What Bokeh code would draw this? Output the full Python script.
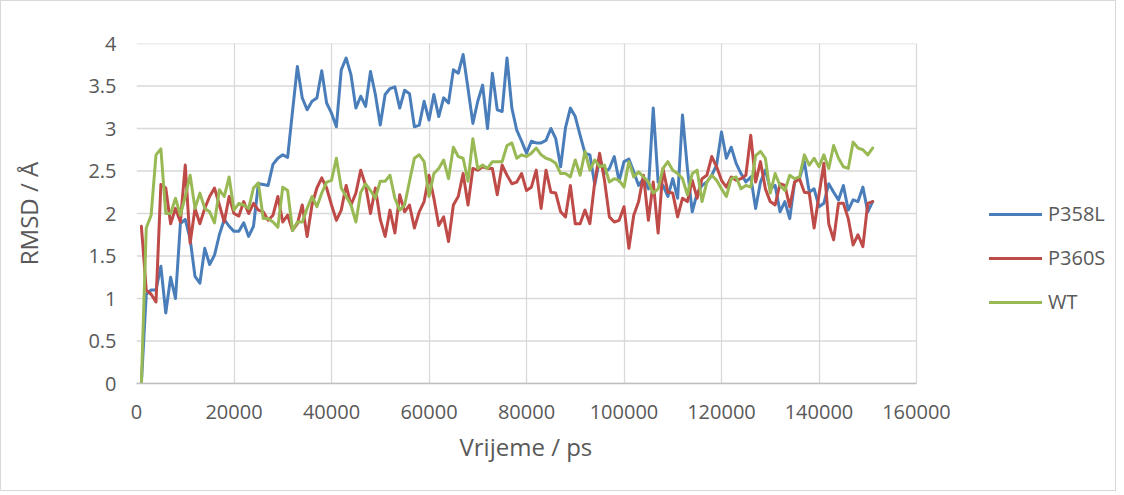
from bokeh.plotting import figure
from bokeh.models import Range1d, FixedTicker, Legend, LegendItem, ColumnDataSource, Title
from bokeh.embed import file_html
from bokeh.resources import INLINE

# ---------------- data ----------------
time_ps = list(range(1000, 152000, 1000))

p358l = [0.00, 1.05, 1.10, 1.10, 1.38, 0.83, 1.25, 1.00, 1.88, 1.93,
         1.70, 1.26, 1.18, 1.59, 1.40, 1.51, 1.75, 1.93, 1.85, 1.79,
         1.79, 1.89, 1.73, 1.85, 2.35, 2.34, 2.33, 2.58, 2.65, 2.69,
         2.66, 3.20, 3.73, 3.36, 3.22, 3.32, 3.36, 3.68, 3.30, 3.18,
         3.02, 3.69, 3.83, 3.63, 3.24, 3.38, 3.26, 3.67, 3.40, 3.04,
         3.40, 3.47, 3.49, 3.24, 3.45, 3.41, 3.02, 3.04, 3.32, 3.10,
         3.40, 3.14, 3.36, 3.30, 3.69, 3.65, 3.87, 3.47, 3.06, 3.32,
         3.51, 3.00, 3.65, 3.22, 3.20, 3.83, 3.24, 2.98, 2.85, 2.71,
         2.85, 2.83, 2.83, 2.86, 3.00, 2.88, 2.55, 3.01, 3.24, 3.14,
         2.92, 2.71, 2.69, 2.34, 2.64, 2.47, 2.53, 2.67, 2.38, 2.61,
         2.64, 2.49, 2.33, 2.41, 2.29, 3.24, 2.37, 2.33, 2.20, 2.41,
         2.18, 3.16, 2.53, 2.02, 2.24, 2.33, 2.37, 2.45, 2.57, 2.96,
         2.65, 2.78, 2.59, 2.47, 2.37, 2.43, 2.06, 2.37, 2.51, 2.29,
         2.33, 2.02, 2.14, 1.94, 2.37, 2.41, 2.61, 2.25, 2.29, 2.08,
         2.12, 2.35, 2.25, 2.16, 2.33, 2.04, 2.16, 2.14, 2.31, 2.02, 2.14]

p360s = [1.85, 1.10, 1.05, 0.96, 2.34, 2.30, 1.88, 2.06, 1.90, 2.57,
         1.65, 2.06, 1.88, 2.06, 2.20, 2.30, 2.10, 1.90, 2.20, 2.00,
         1.97, 2.14, 2.00, 2.12, 2.04, 2.02, 1.92, 1.98, 2.20, 1.90,
         1.98, 1.80, 1.88, 2.10, 1.73, 2.10, 2.30, 2.42, 2.30, 2.10,
         1.92, 2.04, 2.33, 2.10, 2.24, 2.51, 2.33, 2.00, 2.30, 1.93,
         1.73, 2.04, 1.77, 2.22, 2.02, 2.10, 1.83, 2.02, 2.14, 2.45,
         2.18, 1.86, 1.96, 1.67, 2.10, 2.20, 2.47, 2.10, 2.53, 2.51,
         2.55, 2.53, 2.53, 2.22, 2.57, 2.45, 2.35, 2.37, 2.47, 2.27,
         2.31, 2.51, 2.06, 2.51, 2.25, 2.24, 2.02, 1.96, 2.33, 1.88,
         1.88, 2.04, 1.88, 2.37, 2.71, 2.39, 1.96, 1.90, 1.92, 2.08,
         1.59, 1.98, 2.14, 2.45, 1.92, 2.37, 1.77, 2.53, 2.25, 2.24,
         1.96, 2.18, 2.14, 2.39, 2.18, 2.41, 2.45, 2.67, 2.55, 2.39,
         2.31, 2.43, 2.39, 2.41, 2.45, 2.92, 2.37, 2.61, 2.29, 2.14,
         2.10, 2.35, 2.33, 2.08, 2.37, 2.41, 2.25, 2.24, 1.83, 2.22,
         2.59, 1.88, 1.69, 2.12, 2.12, 1.94, 1.63, 1.75, 1.61, 2.12, 2.14]

wt = [0.00, 1.83, 1.98, 2.69, 2.76, 2.00, 2.00, 2.18, 1.98, 2.20,
      2.45, 2.06, 2.24, 2.06, 2.02, 1.89, 2.28, 2.20, 2.43, 2.04,
      2.12, 2.10, 2.06, 2.30, 2.36, 1.94, 1.94, 1.90, 1.84, 2.31,
      2.27, 1.80, 1.90, 1.90, 2.06, 2.20, 2.08, 2.24, 2.37, 2.39,
      2.65, 2.30, 2.20, 2.10, 1.90, 2.25, 2.35, 2.27, 2.18, 2.38,
      2.38, 2.45, 2.18, 2.04, 2.10, 2.38, 2.65, 2.69, 2.61, 2.20,
      2.47, 2.53, 2.63, 2.41, 2.78, 2.67, 2.65, 2.38, 2.88, 2.53,
      2.57, 2.53, 2.61, 2.61, 2.61, 2.80, 2.83, 2.65, 2.69, 2.67,
      2.71, 2.77, 2.69, 2.65, 2.63, 2.59, 2.47, 2.47, 2.43, 2.63,
      2.45, 2.73, 2.51, 2.63, 2.55, 2.57, 2.37, 2.41, 2.39, 2.31,
      2.61, 2.43, 2.49, 2.43, 2.37, 2.24, 2.29, 2.53, 2.61, 2.51,
      2.47, 2.41, 2.22, 2.47, 2.51, 2.14, 2.37, 2.45, 2.39, 2.29,
      2.20, 2.41, 2.43, 2.29, 2.33, 2.31, 2.68, 2.73, 2.65, 2.24,
      2.47, 2.33, 2.27, 2.45, 2.41, 2.43, 2.69, 2.57, 2.65, 2.55,
      2.69, 2.53, 2.80, 2.65, 2.55, 2.53, 2.84, 2.77, 2.75, 2.69, 2.77]

series_names = ["P358L", "P360S", "WT"]
series_colors = ["#4A7EBB", "#BE4B48", "#98B954"]

x_ticks = [0, 20000, 40000, 60000, 80000, 100000, 120000, 140000, 160000]
x_tick_labels = ["0", "20000", "40000", "60000", "80000", "100000", "120000", "140000", "160000"]
y_ticks = [0, 0.5, 1, 1.5, 2, 2.5, 3, 3.5, 4]
y_tick_labels = ["0", "0.5", "1", "1.5", "2", "2.5", "3", "3.5", "4"]

x_title = "Vrijeme / ps"
y_title = "RMSD / Å"

# ---------------- figure ----------------
FONT = "Open Sans"
TXT = "#595959"
GRID = "#D9D9D9"

W, H = 1116, 491
LEFT, TOP, RIGHT, BOTTOM = 135, 42, 10, 109
PLOT_W = 780                      # pixels spanned by 0..160000
frame_w = W - LEFT - RIGHT
x_end = x_ticks[-1] * frame_w / PLOT_W   # extra room on the right holds the legend

p = figure(width=W, height=H, output_backend="svg", toolbar_location=None,
           x_range=Range1d(0, x_end), y_range=Range1d(0, 4),
           min_border_left=LEFT, min_border_right=RIGHT, min_border_top=TOP, min_border_bottom=BOTTOM)
p.styles = {"border": "1px solid #D9D9D9", "box-sizing": "border-box"}
p.outline_line_color = None
p.background_fill_color = "white"
p.border_fill_color = "white"

p.xaxis.ticker = FixedTicker(ticks=x_ticks)
p.yaxis.ticker = FixedTicker(ticks=y_ticks)
p.xaxis.major_label_overrides = {t: l for t, l in zip(x_ticks, x_tick_labels)}
p.yaxis.major_label_overrides = {t: l for t, l in zip(y_ticks, y_tick_labels)}
p.xaxis.bounds = (x_ticks[0], x_ticks[-1])

for ax in (p.xaxis, p.yaxis):
    ax.major_tick_line_color = None
    ax.minor_tick_line_color = None
    ax.major_tick_out = 0
    ax.major_tick_in = 0
    ax.major_label_text_font = FONT
    ax.major_label_text_font_size = "20px"
    ax.major_label_text_color = TXT
    ax.axis_label_text_font = FONT
    ax.axis_label_text_font_size = "24px"
    ax.axis_label_text_font_style = "normal"
    ax.axis_label_text_color = TXT

p.xaxis.axis_line_color = "#BFBFBF"
p.xaxis.axis_line_width = 1.5
p.yaxis.axis_line_color = None
p.xaxis.major_label_standoff = 21
p.yaxis.major_label_standoff = 20
p.yaxis.axis_label = y_title
p.yaxis.axis_label_standoff = 40

# x-axis title, centred under the 0..160000 span
xt = Title(text=x_title, align="left", offset=323, standoff=16, vertical_align="top",
           text_font=FONT, text_font_size="24px", text_font_style="normal", text_color=TXT)
p.add_layout(xt, "below")

# grid: vertical lines from the axis grid, horizontal lines limited to 0..160000
p.xgrid.ticker = FixedTicker(ticks=x_ticks)
p.xgrid.grid_line_color = GRID
p.xgrid.grid_line_width = 1.3
p.ygrid.visible = False
p.segment(x0=[x_ticks[0]] * len(y_ticks), x1=[x_ticks[-1]] * len(y_ticks), y0=y_ticks, y1=y_ticks,
          line_color=GRID, line_width=1.3, level="underlay")

renderers = []
for name, vals, col in zip(series_names, [p358l, p360s, wt], series_colors):
    src = ColumnDataSource(dict(x=time_ps, y=vals))
    r = p.line("x", "y", source=src, line_color=col, line_width=3, line_join="round", line_cap="round")
    renderers.append((name, r))

legend = Legend(items=[LegendItem(label=n, renderers=[r]) for n, r in renderers],
                location=(853, 68), orientation="vertical")
legend.label_text_font = FONT
legend.label_text_font_size = "20px"
legend.label_text_color = TXT
legend.glyph_width = 53
legend.glyph_height = 20
legend.label_height = 20
legend.label_standoff = 6
legend.spacing = 17
legend.padding = 0
legend.margin = 0
legend.border_line_color = None
legend.background_fill_alpha = 0
p.add_layout(legend, "center")

open("out.html", "w").write(file_html(p, INLINE))
